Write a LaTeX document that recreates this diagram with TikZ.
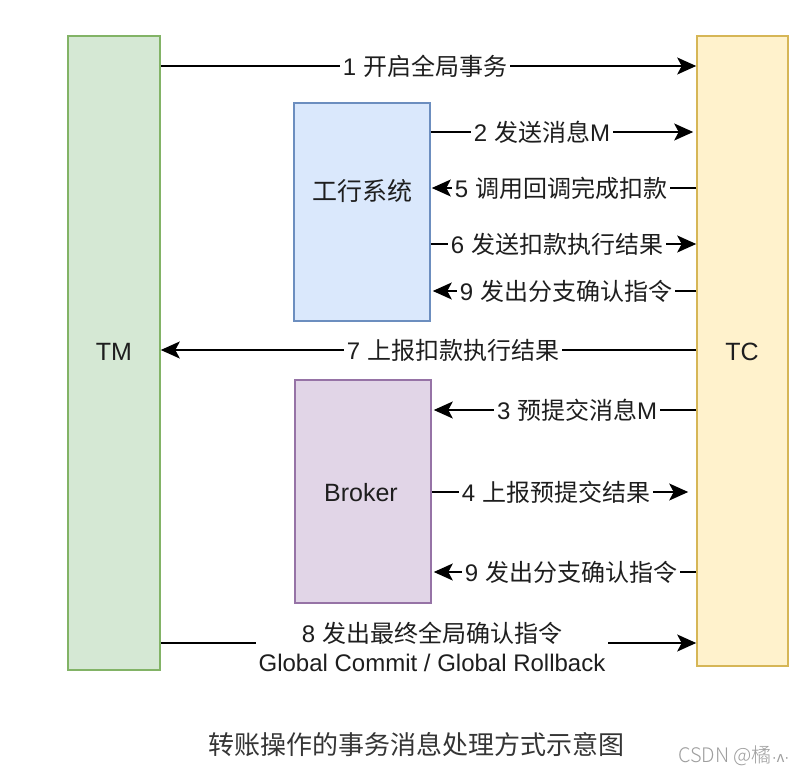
\documentclass[tikz,border=0pt]{standalone}
\usepackage{fontspec}
\setmainfont{Liberation Sans}
\newfontfamily\cjk{Noto Sans CJK SC}
\newfontfamily\cjklight{Noto Sans CJK SC Light}
\usetikzlibrary{arrows.meta}

\definecolor{tmfill}{HTML}{D5E8D4}\definecolor{tmline}{HTML}{82B366}
\definecolor{tcfill}{HTML}{FFF2CC}\definecolor{tcline}{HTML}{D6B656}
\definecolor{bkfill}{HTML}{DAE8FC}\definecolor{bkline}{HTML}{6C8EBF}
\definecolor{brfill}{HTML}{E1D5E7}\definecolor{brline}{HTML}{9673A6}
\definecolor{ink}{HTML}{1E1E1E}

\tikzset{
  box/.style={draw, line width=1.6pt, inner sep=0pt},
  boxtext/.style={text=ink, font=\fontsize{25}{30}\selectfont},
  arr/.style={line width=1.8pt, draw=black,
    -{Stealth[length=19pt,width=17pt,inset=4.5pt]}},
  lbl/.style={fill=white, text=ink, inner xsep=3pt, inner ysep=1pt,
    font=\fontsize{24}{29}\selectfont},
}

\begin{document}
\begin{tikzpicture}[x=1pt,y=-1pt]
\useasboundingbox (0,0) rectangle (804,776);
\fill[white] (0,0) rectangle (804,776);

% participants
\node[box, fill=tmfill, draw=tmline, minimum width=92pt, minimum height=634pt] (tm) at (114,353) {};
\node[box, fill=tcfill, draw=tcline, minimum width=91pt, minimum height=630pt] (tc) at (742.5,351) {};
\node[box, fill=bkfill, draw=bkline, minimum width=136pt, minimum height=218pt] (bank) at (362,212) {};
\node[box, fill=brfill, draw=brline, minimum width=136pt, minimum height=223pt] (broker) at (363,491.5) {};

\node[boxtext] (tmlabel) at (114,352) {TM};
\node[boxtext] (tclabel) at (742,352) {TC};
\node[boxtext] (banklabel) at (362,191) {\cjk 工行系统};
\node[boxtext] (brokerlabel) at (361,493) {Broker};

% messages
\draw[arr] (tm.east |- 0,66) -- (tc.west |- 0,66)
  node[lbl] (m1) at (425,66) {1 {\cjk 开启全局事务}};
\draw[arr, shorten >=3pt] (bank.east |- 0,132) -- (tc.west |- 0,132)
  node[lbl] (m2) at (542,132) {2 {\cjk 发送消息}M};
\draw[arr, shorten >=1pt] (tc.west |- 0,188) -- (bank.east |- 0,188)
  node[lbl] (m5) at (561,188) {5 {\cjk 调用回调完成扣款}};
\draw[arr] (bank.east |- 0,244) -- (tc.west |- 0,244)
  node[lbl] (m6) at (557,244) {6 {\cjk 发送扣款执行结果}};
\draw[arr, shorten >=2pt] (tc.west |- 0,291) -- (bank.east |- 0,291)
  node[lbl] (m9a) at (566,291) {9 {\cjk 发出分支确认指令}};
\draw[arr] (tc.west |- 0,350) -- (tm.east |- 0,350)
  node[lbl] (m7) at (453,350) {7 {\cjk 上报扣款执行结果}};
\draw[arr, shorten >=2pt] (tc.west |- 0,410) -- (broker.east |- 0,410)
  node[lbl] (m3) at (577,410) {3 {\cjk 预提交消息}M};
\draw[arr, shorten >=8pt] (broker.east |- 0,492) -- (tc.west |- 0,492)
  node[lbl] (m4) at (556,492) {4 {\cjk 上报预提交结果}};
\draw[arr, shorten >=2pt] (tc.west |- 0,572) -- (broker.east |- 0,572)
  node[lbl] (m9b) at (571,572) {9 {\cjk 发出分支确认指令}};
\draw[arr] (tm.east |- 0,643) -- (tc.west |- 0,643)
  node[lbl, align=center] (m8) at (432,646.5) {8 {\cjk 发出最终全局确认指令}\\Global Commit / Global Rollback};

% caption and credit
\node[text=ink!90, font=\cjk\fontsize{26}{30}\selectfont] (caption) at (416,745) {转账操作的事务消息处理方式示意图};
\node[anchor=east, text=black!38, font=\cjklight\fontsize{20}{24}\selectfont] (credit) at (793,756) {CSDN\ @橘{\fontspec{Liberation Sans}\fontsize{15}{18}\selectfont·ʌ·}};
\end{tikzpicture}
\end{document}
